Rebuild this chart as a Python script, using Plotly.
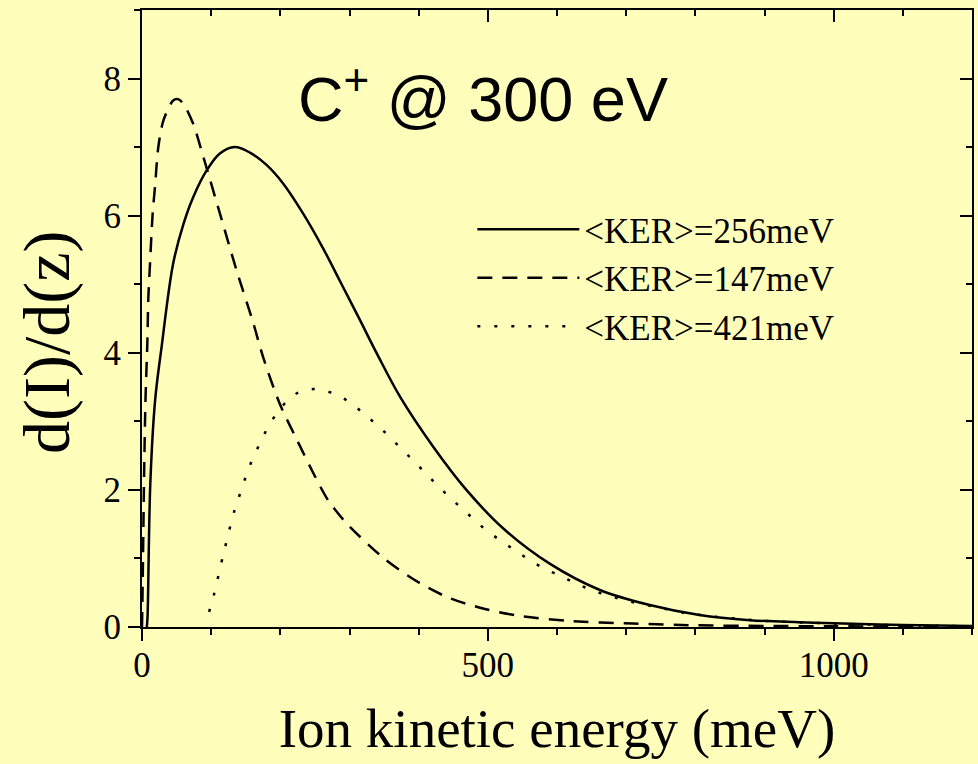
import plotly.graph_objects as go

# ---- data ----
solid_E = [7, 8, 12, 19, 28.4, 45, 60, 74, 93.5, 113, 134, 156, 180, 204, 233, 262, 286, 313, 340, 373, 421, 469, 522, 590, 662, 734, 806, 879, 950, 1000, 1100, 1200]
solid_v = [0, 0.15, 2.09, 3.31, 4.09, 5.30, 5.88, 6.27, 6.66, 6.91, 7.00, 6.92, 6.74, 6.47, 6.03, 5.52, 5.05, 4.52, 3.98, 3.36, 2.63, 2.0, 1.44, 0.92, 0.54, 0.32, 0.175, 0.10, 0.07, 0.055, 0.03, 0.015]

dash_E = [0, 1, 3, 5, 7.7, 9.2, 11.6, 15.4, 18.8, 23.6, 31, 45, 52, 60, 74, 88.6, 112.7, 136.8, 161, 175, 199, 224, 248, 269, 296, 350, 400, 445, 493, 541, 614, 710, 800, 900, 1000, 1200]
dash_v = [0, 0.64, 2.2, 3.3, 4.14, 4.81, 5.30, 6.03, 6.42, 7.0, 7.39, 7.68, 7.70, 7.63, 7.34, 6.86, 6.03, 5.20, 4.43, 3.94, 3.26, 2.73, 2.24, 1.85, 1.51, 1.00, 0.65, 0.42, 0.27, 0.17, 0.09, 0.05, 0.025, 0.015, 0.01, 0.005]

dot_E = [97, 104, 115, 121, 134, 142, 150, 159, 171, 183, 202, 224, 248, 273, 297, 322, 346, 371, 395, 420, 444, 468, 492, 517, 542, 566, 591, 616, 640, 664, 691, 715, 739, 763, 787, 811, 850, 900, 1000, 1100, 1200]
dot_v = [0.22, 0.47, 0.95, 1.2, 1.71, 1.95, 2.19, 2.43, 2.69, 2.93, 3.21, 3.41, 3.47, 3.42, 3.30, 3.10, 2.89, 2.64, 2.40, 2.14, 1.90, 1.68, 1.46, 1.27, 1.10, 0.94, 0.81, 0.69, 0.58, 0.49, 0.41, 0.35, 0.30, 0.25, 0.20, 0.17, 0.13, 0.09, 0.05, 0.025, 0.012]

series_names = ["&lt;KER&gt;=256meV", "&lt;KER&gt;=147meV", "&lt;KER&gt;=421meV"]
x_ticks = [0, 500, 1000]
y_ticks = [0, 2, 4, 6, 8]

BG = "#FFFFBB"
SERIF = "Liberation Serif, Times New Roman, serif"
SANS = "Liberation Sans, Arial, sans-serif"

fig = go.Figure()
fig.add_trace(go.Scatter(x=solid_E, y=solid_v, mode="lines", name=series_names[0],
                         line=dict(color="black", width=2.5, shape="spline", smoothing=1.0)))
fig.add_trace(go.Scatter(x=dash_E, y=dash_v, mode="lines", name=series_names[1],
                         line=dict(color="black", width=2.5, dash="15px,10px", shape="spline", smoothing=0.8)))
fig.add_trace(go.Scatter(x=dot_E, y=dot_v, mode="lines", name=series_names[2],
                         line=dict(color="black", width=2.5, dash="3px,14px", shape="spline", smoothing=1.0)))
# invisible trace to carry the mirrored frame axes
fig.add_trace(go.Scatter(x=[0], y=[0], xaxis="x2", yaxis="y2", mode="markers",
                         marker=dict(opacity=0), showlegend=False, hoverinfo="skip"))

axis_common = dict(showgrid=False, zeroline=False, showline=True, linecolor="black", linewidth=2,
                   tickcolor="black", tickwidth=2)

fig.update_layout(
    width=978, height=764,
    margin=dict(l=142, r=6, t=10, b=137),
    paper_bgcolor=BG, plot_bgcolor=BG,
    font=dict(family=SERIF, color="black"),
    xaxis=dict(range=[0, 1200], tickvals=x_ticks, ticks="outside", ticklen=12,
               tickfont=dict(family=SERIF, size=35), ticklabelstandoff=-6,
               minor=dict(dtick=100, tick0=0, ticks="outside", ticklen=6, tickwidth=2, tickcolor="black"),
               title=dict(text="Ion kinetic energy (meV)", font=dict(family=SERIF, size=55), standoff=24),
               **axis_common),
    yaxis=dict(range=[0, 9], tickvals=y_ticks, ticks="outside", ticklen=12,
               tickfont=dict(family=SERIF, size=35),
               minor=dict(dtick=1, tick0=0, ticks="outside", ticklen=6, tickwidth=2, tickcolor="black"),
               **axis_common),
    xaxis2=dict(range=[0, 1200], overlaying="x", side="top", anchor="y", tickvals=x_ticks,
                ticks="inside", ticklen=12, showticklabels=False,
                minor=dict(dtick=100, tick0=0, ticks="inside", ticklen=6, tickwidth=2, tickcolor="black"),
                **axis_common),
    yaxis2=dict(range=[0, 9], overlaying="y", side="right", anchor="x", tickvals=y_ticks,
                ticks="inside", ticklen=12, showticklabels=False,
                minor=dict(dtick=1, tick0=0, ticks="inside", ticklen=6, tickwidth=2, tickcolor="black"),
                **axis_common),
    showlegend=True,
    legend=dict(x=0.398, y=0.692, xanchor="left", yanchor="top", bgcolor="rgba(0,0,0,0)",
                font=dict(family=SERIF, size=35), itemwidth=102, tracegroupgap=0),
    annotations=[
        dict(text="C<sup>+</sup> @ 300 eV", x=0.411, y=0.93, xref="paper", yref="paper",
             showarrow=False, font=dict(family=SANS, size=63, color="black")),
        dict(text="d(I)/d(z)", x=(47 - 142) / 830, y=0.462, xref="paper", yref="paper",
             xanchor="center", yanchor="middle", textangle=-90,
             showarrow=False, font=dict(family=SERIF, size=66, color="black")),
    ],
)

fig.write_html("out.html")
